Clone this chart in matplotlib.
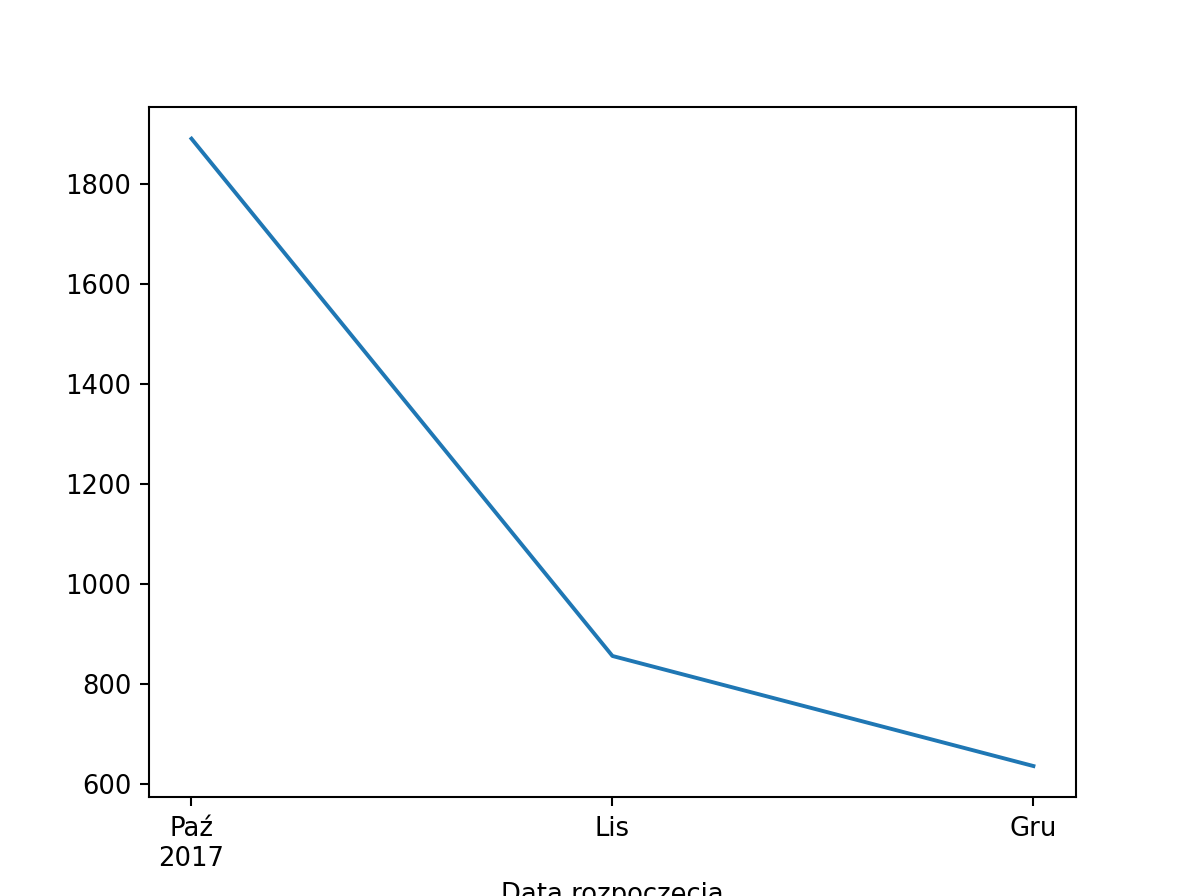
import matplotlib
matplotlib.use("Agg")
import matplotlib.pyplot as plt

miesiace = ["Paź\n2017", "Lis", "Gru"]
liczba = [1890, 856, 636]

fig, ax = plt.subplots(figsize=(6.4, 4.8), dpi=186.72)
x = list(range(len(liczba)))
ax.plot(x, liczba, color="#1f77b4")
ax.set_xticks(x)
ax.set_xticklabels(miesiace)
ax.set_xlabel("Data rozpoczęcia")

fig.savefig("out.png", dpi=186.72)
